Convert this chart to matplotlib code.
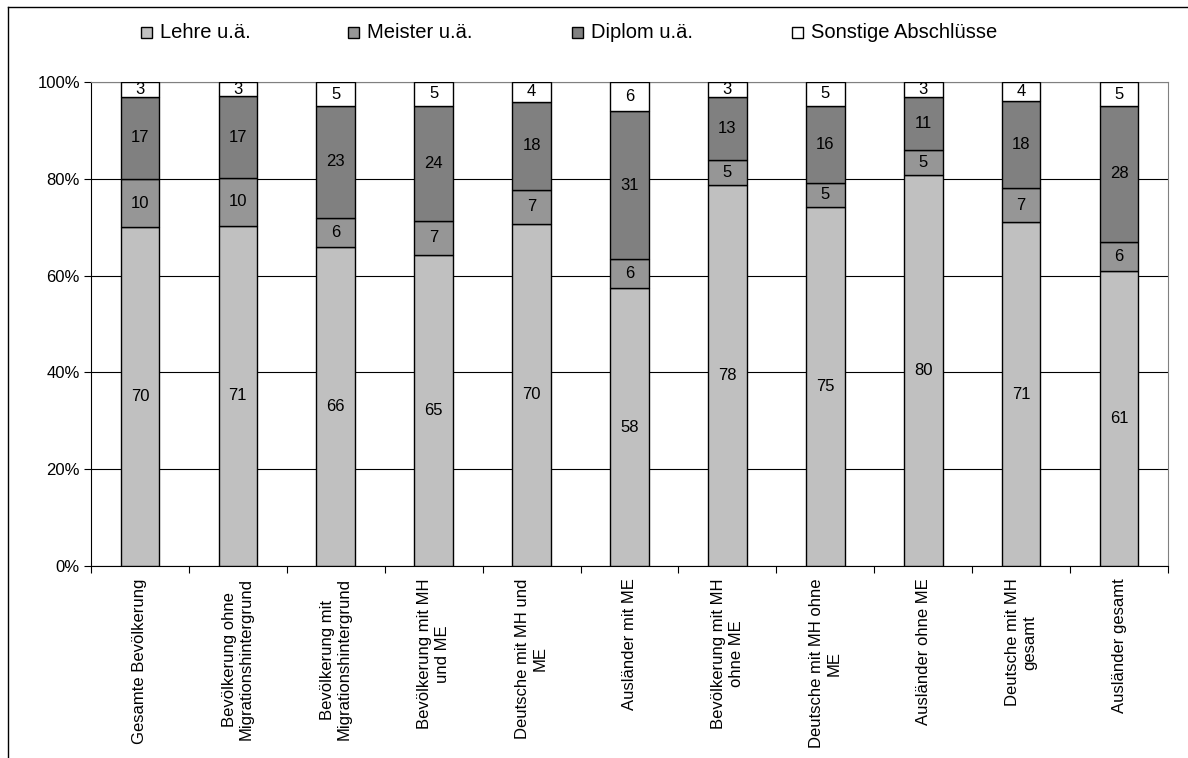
import numpy as np
import matplotlib
matplotlib.use("Agg")
import matplotlib.pyplot as plt
from matplotlib.patches import Rectangle
from matplotlib.ticker import FixedLocator, PercentFormatter

plt.rcParams['font.family'] = ['Liberation Sans', 'DejaVu Sans']

# categories (x axis, wrapped as in the original)
categories = [
    "Gesamte Bevölkerung",
    "Bevölkerung ohne\nMigrationshintergrund",
    "Bevölkerung mit\nMigrationshintergrund",
    "Bevölkerung mit MH\nund ME",
    "Deutsche mit MH und\nME",
    "Ausländer mit ME",
    "Bevölkerung mit MH\nohne ME",
    "Deutsche mit MH ohne\nME",
    "Ausländer ohne ME",
    "Deutsche mit MH\ngesamt",
    "Ausländer gesamt",
]

series_names = ["Lehre u.ä.", "Meister u.ä.", "Diplom u.ä.", "Sonstige Abschlüsse"]

lehre = [70, 71, 66, 65, 70, 58, 78, 75, 80, 71, 61]
meister = [10, 10, 6, 7, 7, 6, 5, 5, 5, 7, 6]
diplom = [17, 17, 23, 24, 18, 31, 13, 16, 11, 18, 28]
sonstige = [3, 3, 5, 5, 4, 6, 3, 5, 3, 4, 5]

colors = ['#C0C0C0', '#969696', '#808080', '#FFFFFF']

# 100% stacked: normalise each column
values = np.array([lehre, meister, diplom, sonstige], dtype=float)
shares = values / values.sum(axis=0) * 100

fig = plt.figure(figsize=(11.88, 7.58), dpi=100)
W, H = 1188, 758

# outer chart border (Excel chart area)
fig.add_artist(plt.Line2D([8 / W, 8 / W], [0, 1 - 7 / H], color='black', lw=1.0))
fig.add_artist(plt.Line2D([8 / W, 1], [1 - 7 / H, 1 - 7 / H], color='black', lw=1.0))

left, right, top, bottom = 91, 1168, 82, 566
ax = fig.add_axes([left / W, 1 - bottom / H, (right - left) / W, (bottom - top) / H])

x = np.arange(len(categories))
base = np.zeros(len(categories))
for i in range(len(series_names)):
    ax.bar(x, shares[i], bottom=base, width=0.394, color=colors[i],
           edgecolor='black', linewidth=1.0, zorder=3)
    for j in range(len(categories)):
        ax.text(x[j], base[j] + shares[i][j] / 2, "%d" % values[i][j],
                ha='center', va='center', fontsize=12, zorder=4)
    base += shares[i]

ax.set_xlim(-0.5, len(categories) - 0.5)
ax.set_ylim(0, 100)
ax.yaxis.set_major_locator(FixedLocator([0, 20, 40, 60, 80, 100]))
ax.yaxis.set_major_formatter(PercentFormatter(decimals=0))
ax.grid(axis='y', color='black', linewidth=0.8, zorder=0)

ax.set_xticks(x)
ax.set_xticklabels(categories, rotation=90, ha='center', va='top',
                   multialignment='center', fontsize=12)
ax.set_xticks(np.arange(-0.5, len(categories)), minor=True)
ax.tick_params(axis='x', which='major', length=0, pad=9)
ax.tick_params(axis='x', which='minor', length=5, direction='out', width=0.8)
ax.tick_params(axis='y', length=5, direction='out', width=0.8, labelsize=12, pad=3)

for side in ['top', 'right']:
    ax.spines[side].set_color('#808080')
    ax.spines[side].set_linewidth(0.8)
for side in ['left', 'bottom']:
    ax.spines[side].set_color('black')
    ax.spines[side].set_linewidth(0.8)

# legend along the top, laid out like the Excel one
legend_x = [141, 348, 572, 792]
for xs, name, c in zip(legend_x, series_names, colors):
    fig.add_artist(Rectangle((xs / W, 1 - 38 / H), 11 / W, 11 / H,
                             facecolor=c, edgecolor='black', lw=1.0,
                             transform=fig.transFigure))
    fig.text((xs + 19) / W, 1 - 32 / H, name, ha='left', va='center', fontsize=14.5)

fig.savefig("out.png", dpi=100)
